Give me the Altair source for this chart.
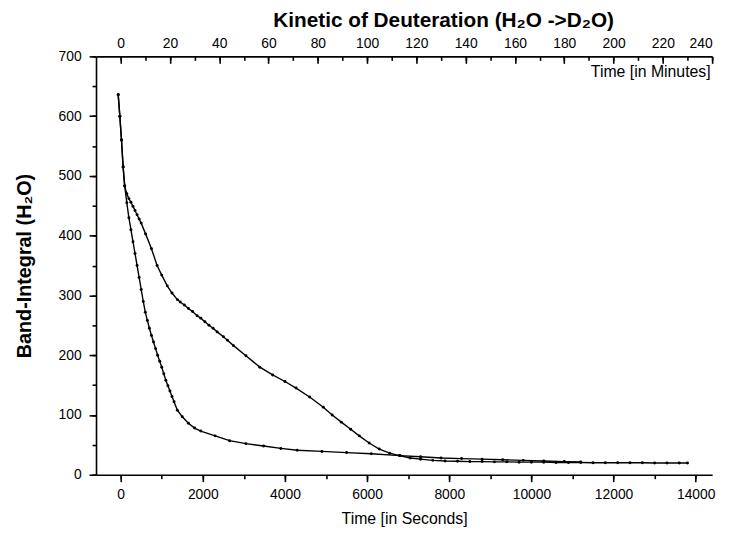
import altair as alt
import pandas as pd

# ---- data (time in seconds, band integral) ----
fast_t = [-60, -20, 20, 60, 100, 150, 200, 250, 300, 350, 400, 450, 500, 550, 600, 650, 700, 750, 800,
          850, 900, 950, 1000, 1050, 1100, 1150, 1200, 1250, 1300, 1380, 1500, 1650, 1800, 1950, 2300,
          2650, 3050, 3480, 3900, 4300, 4900, 5500, 6100, 6800, 7300, 7800, 8300, 8800, 9300, 9800,
          10300, 10800, 11200]
fast_v = [636, 600, 560, 515, 483, 455, 430, 410, 390, 370, 350, 330, 310, 290, 272, 258, 245, 233, 222,
          211, 200, 190, 180, 169, 158, 149, 140, 131, 122, 108, 97, 86, 78, 73, 65,
          57, 52, 48, 44, 41, 39, 37, 35, 32, 30, 28, 27, 26, 25, 24,
          23, 22, 21.5]

slow_t = [-60, -20, 20, 60, 97, 150, 200, 250, 300, 350, 400, 450, 500, 607, 750, 887, 1000, 1134, 1250,
          1380, 1450, 1550, 1650, 1750, 1862, 1950, 2050, 2150, 2250, 2350, 2500, 2600, 2747, 3050,
          3388, 3700, 4000, 4271, 4600, 4934, 5150, 5372, 5600, 5809, 6050, 6296, 6550, 6782, 7050,
          7300, 7600, 7900, 8200, 8500, 8800, 9100, 9400, 9700, 10000, 10300, 10600, 10900, 11200,
          11500, 11800, 12100, 12400, 12700, 13000, 13300, 13600, 13800]
slow_v = [636, 600, 560, 515, 483, 470, 462, 456, 449, 442, 435, 428, 421, 403, 378, 350, 334, 316, 304,
          293, 289, 284, 278, 273, 266, 262, 256, 250, 245, 239, 231, 225, 216, 199,
          180, 167, 156, 145, 130, 113, 100, 88, 76, 65, 53, 43, 36, 32, 28,
          26, 24, 23, 22.5, 22, 22, 21.5, 21.5, 21, 21, 21, 20.5, 20.5, 20.5,
          20, 20, 20, 20, 20, 19.5, 19.5, 19.5, 19.5]

sec_ticks = [0, 2000, 4000, 6000, 8000, 10000, 12000, 14000]
sec_minor = [0, 1000, 2000, 3000, 4000, 5000, 6000, 7000, 8000, 9000, 10000, 11000, 12000, 13000, 14000]
min_ticks = [0, 20, 40, 60, 80, 100, 120, 140, 160, 180, 200, 220, 240]
min_minor = [0, 10, 20, 30, 40, 50, 60, 70, 80, 90, 100, 110, 120, 130, 140, 150, 160, 170, 180, 190,
             200, 210, 220, 230, 240]
y_ticks = [0, 100, 200, 300, 400, 500, 600, 700]
y_minor = [0, 50, 100, 150, 200, 250, 300, 350, 400, 450, 500, 550, 600, 650, 700]

SEC_DOMAIN = [-600, 14400]
MIN_DOMAIN = [-10, 240]
Y_DOMAIN = [0, 700]

FONT = "Liberation Sans"
W, H = 623, 423

df = pd.concat([
    pd.DataFrame({"t": fast_t, "v": fast_v, "series": "fast"}),
    pd.DataFrame({"t": slow_t, "v": slow_v, "series": "slow"}),
], ignore_index=True)
mdf = pd.DataFrame({"m": min_minor})

xs = alt.Scale(domain=SEC_DOMAIN, nice=False, zero=False)
ms = alt.Scale(domain=MIN_DOMAIN, nice=False, zero=False)
ys = alt.Scale(domain=Y_DOMAIN, nice=False, zero=False)

common_axis = dict(grid=False, domainColor="black", tickColor="black", labelColor="black",
                   labelFont=FONT, labelFontSize=14, titleFont=FONT, titleColor="black",
                   domainWidth=1.6, tickWidth=1.6, format="d")

base = alt.Chart(df)

lines = base.mark_line(color="black", strokeWidth=1.4).encode(
    x=alt.X("t:Q", scale=xs, axis=alt.Axis(values=sec_ticks, orient="bottom", tickSize=7,
                                            labelPadding=6, title="Time [in Seconds]",
                                            titleFontSize=16, titleFontWeight="normal",
                                            titlePadding=9, **common_axis)),
    y=alt.Y("v:Q", scale=ys, axis=alt.Axis(values=y_ticks, orient="left", tickSize=7,
                                            labelPadding=8, title="Band-Integral (H₂O)",
                                            titleFontSize=20, titleFontWeight="bold",
                                            titlePadding=24, **common_axis)),
    detail="series:N",
)

points = base.mark_circle(color="black", size=9, opacity=1).encode(
    x=alt.X("t:Q", scale=xs, axis=None),
    y=alt.Y("v:Q", scale=ys, axis=None),
)

minor = base.mark_point(opacity=0).encode(
    x=alt.X("t:Q", scale=xs, axis=alt.Axis(values=sec_minor, orient="bottom", labels=False,
                                            domain=False, tickSize=4, title="", **common_axis)),
    y=alt.Y("v:Q", scale=ys, axis=alt.Axis(values=y_minor, orient="left", labels=False,
                                            domain=False, tickSize=4, title="", **common_axis)),
)

top_labels = alt.Chart(mdf).mark_point(opacity=0).encode(
    x=alt.X("m:Q", scale=ms, axis=alt.Axis(values=min_ticks, orient="top", ticks=False,
                                            labelPadding=6, title="Time [in Minutes]",
                                            titleFontSize=16, titleFontWeight="normal",
                                            titleAnchor="end", titleAlign="right",
                                            titleX=W - 2, titleY=15, titleBaseline="middle",
                                            **common_axis)),
    y=alt.value(0),
)

top_major = alt.Chart(mdf).mark_point(opacity=0).encode(
    x=alt.X("m:Q", scale=ms, axis=alt.Axis(values=min_ticks, orient="top", labels=False,
                                            domain=False, tickSize=7, offset=-7, title="",
                                            **common_axis)),
    y=alt.value(0),
)

top_minor = alt.Chart(mdf).mark_point(opacity=0).encode(
    x=alt.X("m:Q", scale=ms, axis=alt.Axis(values=min_minor, orient="top", labels=False,
                                            domain=False, tickSize=4, offset=-4, title="",
                                            **common_axis)),
    y=alt.value(0),
)

chart = alt.layer(lines, points, minor, top_labels, top_major, top_minor).resolve_scale(
    x="independent", y="independent"
).resolve_axis(
    x="independent", y="independent"
).properties(
    width=W,
    height=H,
    autosize=alt.AutoSizeParams(type="none"),
    padding={"left": 89, "top": 46, "right": 13, "bottom": 55},
    title=alt.TitleParams("Kinetic of Deuteration (H₂O ->D₂O)", font=FONT, fontSize=21,
                          fontWeight="bold", color="black", anchor="middle", dx=40, offset=6),
).configure_view(stroke=None)

chart.save("out.html", embed_options={"renderer": "svg", "actions": False})
